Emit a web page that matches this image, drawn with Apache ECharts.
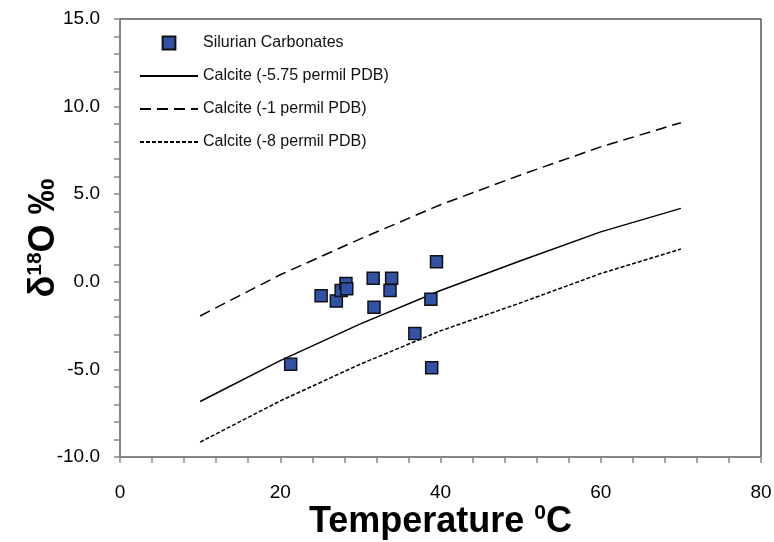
<!DOCTYPE html>
<html>
<head>
<meta charset="utf-8">
<script src="https://cdn.jsdelivr.net/npm/echarts@6/dist/echarts.min.js"></script>
<style>
  html, body { margin: 0; padding: 0; background: #fff; }
  #main { width: 774px; height: 542px; }
</style>
</head>
<body>
<div id="main"></div>
<script>
// measured samples (temperature in C, d18O in permil)
var sampleTemp = [21.3, 25.1, 27.0, 27.6, 28.2, 28.3, 31.6, 31.7, 33.9, 33.7, 39.5, 38.8, 36.8, 38.9];
var sampleD18O = [-4.7, -0.8, -1.1, -0.5, -0.1, -0.4, 0.2, -1.45, 0.2, -0.5, 1.15, -1.0, -2.95, -4.9];

// calcite equilibrium curves
var curveTemp = [10, 20, 30, 40, 50, 60, 70];
var calciteMid = [-6.83, -4.5, -2.4, -0.5, 1.2, 2.85, 4.19];   // -5.75 permil PDB
var calciteHigh = [-1.95, 0.4, 2.45, 4.4, 6.1, 7.7, 9.08];     // -1 permil PDB
var calciteLow = [-9.15, -6.8, -4.7, -2.8, -1.2, 0.47, 1.87];  // -8 permil PDB

var seriesNames = ['Silurian Carbonates', 'Calcite (-5.75 permil PDB)', 'Calcite (-1 permil PDB)', 'Calcite (-8 permil PDB)'];

function pairs(xs, ys) {
  var out = [];
  for (var i = 0; i < xs.length; i++) out.push([xs[i], ys[i]]);
  return out;
}

var font = 'Liberation Sans, Arial, sans-serif';
var chart = echarts.init(document.getElementById('main'));

function curve(name, values, type) {
  return {
    name: name,
    type: 'line',
    data: pairs(curveTemp, values),
    symbol: 'none',
    silent: true,
    color: '#000',
    z: 2,
    lineStyle: { color: '#000', width: 1.5, type: type }
  };
}

var titleRich = {
  b: { fontSize: 36, fontWeight: 'bold', color: '#000', fontFamily: font },
  s: { fontSize: 21, fontWeight: 'bold', color: '#000', fontFamily: font, padding: [0, 0, 17, 0] }
};

var option = {
  animation: false,
  backgroundColor: '#fff',
  textStyle: { fontFamily: font },
  grid: {
    left: 120, right: 13, top: 19, bottom: 85,
    outerBoundsMode: 'none',
    containLabel: false,
    show: true, borderColor: '#000', borderWidth: 1
  },
  legend: {
    orient: 'vertical',
    left: 139, top: 35,
    padding: 0,
    itemWidth: 58, itemHeight: 16, itemGap: 17,
    textStyle: { fontSize: 16, color: '#111', fontFamily: font },
    data: [
      { name: seriesNames[0] },
      { name: seriesNames[1], itemStyle: { opacity: 0 } },
      { name: seriesNames[2], itemStyle: { opacity: 0 } },
      { name: seriesNames[3], itemStyle: { opacity: 0 } }
    ]
  },
  xAxis: {
    type: 'value',
    min: 0, max: 80, interval: 20,
    name: '{b|Temperature }{s|0}{b|C}',
    nameLocation: 'middle',
    nameGap: 46,
    nameMoveOverlap: false,
    nameTextStyle: { rich: titleRich },
    axisLine: { onZero: false, lineStyle: { color: '#888', width: 1.5 } },
    axisTick: { show: true, inside: false, length: 6, lineStyle: { color: '#888', width: 1.5 } },
    minorTick: { show: true, splitNumber: 5, length: 6, lineStyle: { color: '#888', width: 1.5 } },
    splitLine: { show: false },
    axisLabel: { fontSize: 19, color: '#000', margin: 26 }
  },
  yAxis: {
    type: 'value',
    min: -10, max: 15, interval: 5,
    name: '{b|δ}{s|18}{b|O ‰}',
    nameLocation: 'middle',
    nameGap: 57,
    nameMoveOverlap: false,
    nameTextStyle: { rich: titleRich },
    axisLine: { onZero: false, lineStyle: { color: '#888', width: 1.5 } },
    axisTick: { show: true, inside: false, length: 6, lineStyle: { color: '#888', width: 1.5 } },
    minorTick: { show: true, splitNumber: 5, length: 6, lineStyle: { color: '#888', width: 1.5 } },
    splitLine: { show: false },
    axisLabel: {
      fontSize: 19, color: '#000', margin: 20,
      formatter: function (v) { return v.toFixed(1); }
    }
  },
  series: [
    {
      name: seriesNames[0],
      type: 'line',
      data: pairs(sampleTemp, sampleD18O),
      symbol: 'rect',
      symbolSize: 12,
      color: '#3152A6',
      z: 5,
      lineStyle: { width: 0, opacity: 0 },
      itemStyle: { color: '#3152A6', borderColor: '#111', borderWidth: 1.5 }
    },
    curve(seriesNames[1], calciteMid, 'solid'),
    curve(seriesNames[2], calciteHigh, [11, 6]),
    curve(seriesNames[3], calciteLow, [4, 2])
  ]
};

chart.setOption(option);
</script>
</body>
</html>
